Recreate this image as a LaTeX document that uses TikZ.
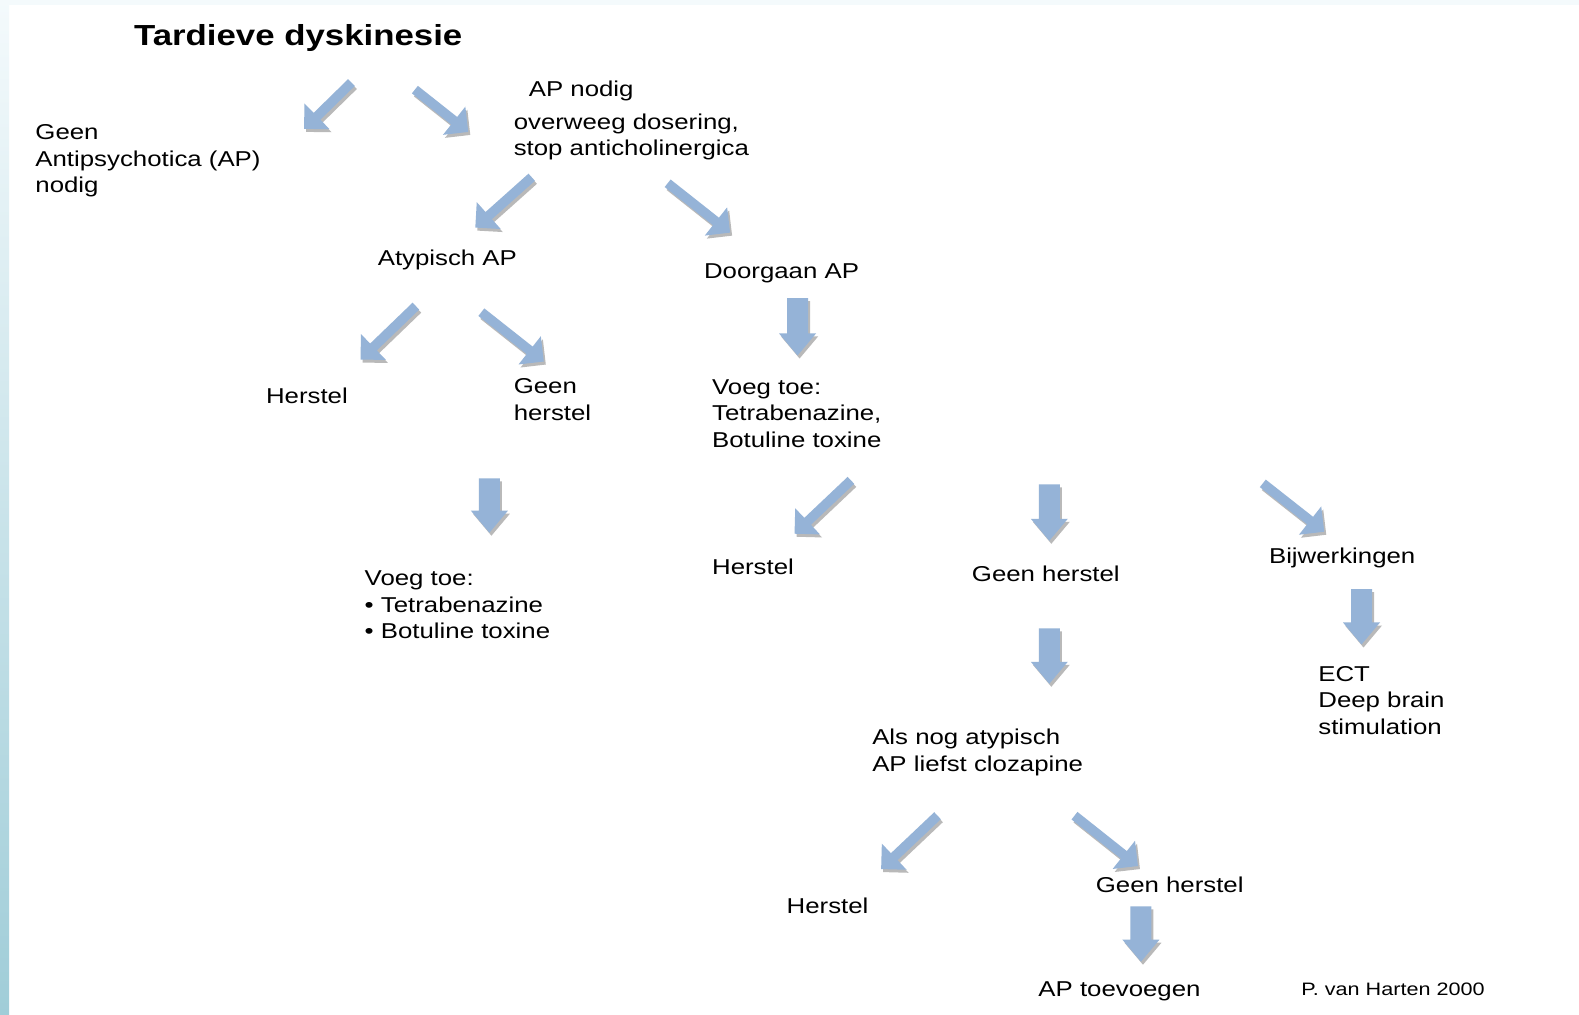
\documentclass[tikz,border=0pt]{standalone}
\usepackage{fontspec}
\setmainfont[FakeStretch=1.2]{Liberation Sans}
\usetikzlibrary{calc}
\definecolor{arrblue}{RGB}{149,179,215}
\definecolor{arrshade}{RGB}{185,185,185}
\definecolor{edgetop}{RGB}{244,250,252}
\definecolor{edgemid}{RGB}{228,242,246}
\definecolor{edgebot}{RGB}{160,205,216}
\newcommand\blockarr[5]{%
  \coordinate (ba-s) at #1;
  \coordinate (ba-e) at #2;
  \coordinate (ba-h) at ($(ba-e)!#5!(ba-s)$);
  \coordinate (ba-1) at ($(ba-s)!#3!90:(ba-e)$);
  \coordinate (ba-2) at ($(ba-h)!#3!-90:(ba-s)$);
  \coordinate (ba-3) at ($(ba-h)!#4!-90:(ba-s)$);
  \coordinate (ba-4) at ($(ba-h)!#4!90:(ba-s)$);
  \coordinate (ba-5) at ($(ba-h)!#3!90:(ba-s)$);
  \coordinate (ba-6) at ($(ba-s)!#3!-90:(ba-e)$);
  \fill[arrshade] ([shift={(2,3)}]ba-1) -- ([shift={(2,3)}]ba-2) -- ([shift={(2,3)}]ba-3) -- ([shift={(2,3)}]ba-e) -- ([shift={(2,3)}]ba-4) -- ([shift={(2,3)}]ba-5) -- ([shift={(2,3)}]ba-6) -- cycle;
  \fill[arrblue] (ba-1) -- (ba-2) -- (ba-3) -- (ba-e) -- (ba-4) -- (ba-5) -- (ba-6) -- cycle;
}
\newcommand\diagarr[2]{\blockarr{#1}{#2}{4.8pt}{18pt}{18pt}}
\newcommand\downarr[2]{\blockarr{#1}{#2}{10.5pt}{18.5pt}{22pt}}
\begin{document}
\begin{tikzpicture}[x=1.007pt,y=-1.007pt,
  txt/.style={anchor=base west,inner sep=0pt,align=left,font=\fontsize{21.5}{26.7}\selectfont}]
\useasboundingbox (0,0) rectangle (1568,1007);
\fill[white] (0,0) rectangle (1568,1007);
\fill[edgetop] (0,0) rectangle (1568,5);
\shade[top color=edgetop,middle color=edgemid,bottom color=edgebot] (0,0) rectangle (9,1007);

% title and texts (base anchor = baseline of the last line)
\node[anchor=base west,inner sep=0pt,font=\fontsize{29}{34}\selectfont\bfseries] (title) at (133,45) {Tardieve dyskinesie};
\node[txt] (geen) at (35,191.4) {Geen\\Antipsychotica (AP)\\nodig};
\node[txt] (apnodig) at (525,96) {AP nodig};
\node[txt] (overweeg) at (510,154.7) {overweeg dosering,\\stop anticholinergica};
\node[txt] (atyp) at (375,264) {Atypisch AP};
\node[txt] (door) at (699,277) {Doorgaan AP};
\node[txt] (herstel1) at (264,401) {Herstel};
\node[txt] (geenh1) at (510,417.7) {Geen\\herstel};
\node[txt] (voeg1) at (707,444.4) {Voeg toe:\\Tetrabenazine,\\Botuline toxine};
\node[txt] (voeg2) at (362,634.4) {Voeg toe:\\• Tetrabenazine\\• Botuline toxine};
\node[txt] (herstel2) at (707,570) {Herstel};
\node[txt] (geenh2) at (965,577) {Geen herstel};
\node[txt] (bijw) at (1260,560) {Bijwerkingen};
\node[txt] (ect) at (1309,729.4) {ECT\\Deep brain\\stimulation};
\node[txt] (alsnog) at (866,765.7) {Als nog atypisch\\AP liefst clozapine};
\node[txt] (herstel3) at (781,907) {Herstel};
\node[txt] (geenh3) at (1088,886) {Geen herstel};
\node[txt] (aptoe) at (1031,990) {AP toevoegen};
\node[txt,font=\fontsize{18}{21}\selectfont] (auth) at (1292,989) {P. van Harten 2000};

% block arrows
\diagarr{(349,82)}{(302,128)}
\diagarr{(412,89)}{(465,131)}
\diagarr{(528,176)}{(472,226)}
\diagarr{(663,182)}{(725,231)}
\diagarr{(413,304)}{(358,357)}
\diagarr{(478,310)}{(540,359)}
\downarr{(792,296)}{(792,353)}
\downarr{(486,475)}{(486,529)}
\diagarr{(845,477)}{(789,530)}
\downarr{(1042,481)}{(1042,537)}
\diagarr{(1254,480)}{(1315,528)}
\downarr{(1352,585)}{(1352,640)}
\downarr{(1042,624)}{(1042,679)}
\diagarr{(931,810)}{(875,863)}
\diagarr{(1067,810)}{(1130,860)}
\downarr{(1133,900)}{(1133,955)}
\end{tikzpicture}
\end{document}
